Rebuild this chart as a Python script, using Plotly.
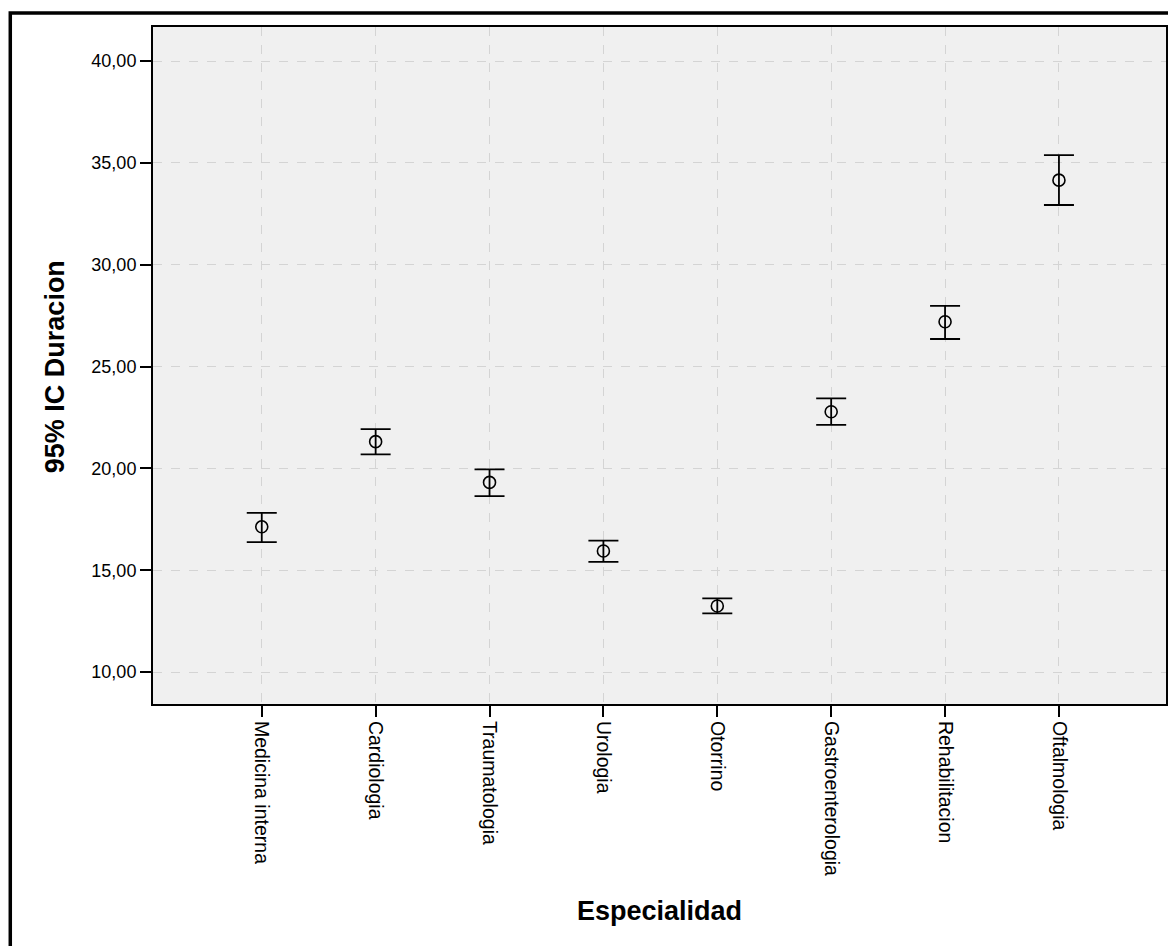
import plotly.graph_objects as go

categories = ["Medicina interna", "Cardiologia", "Traumatologia", "Urologia",
              "Otorrino", "Gastroenterologia", "Rehabilitacion", "Oftalmologia"]
means = [17.13, 21.31, 19.31, 15.94, 13.24, 22.78, 27.20, 34.15]
ci_upper = [17.81, 21.93, 19.95, 16.45, 13.62, 23.44, 27.98, 35.38]
ci_lower = [16.38, 20.69, 18.64, 15.41, 12.88, 22.13, 26.35, 32.93]
y_ticks = [10, 15, 20, 25, 30, 35, 40]
y_ticklabels = ["10,00", "15,00", "20,00", "25,00", "30,00", "35,00", "40,00"]

FONT = "Arial, 'Liberation Sans', sans-serif"

# page body has an 8px margin; work in page coords minus 8
OFF = 8
W, H = 1176 - OFF, 946 - OFF
L, R, T, B = 153 - OFF, 1168 - OFF, 27 - OFF, 704 - OFF

err_plus = [u - m for u, m in zip(ci_upper, means)]
err_minus = [m - l for m, l in zip(means, ci_lower)]

fig = go.Figure()
fig.add_trace(go.Scatter(
    x=list(range(len(categories))), y=means, mode="markers",
    marker=dict(symbol="circle-open", size=12, color="black", line=dict(width=1.6, color="black")),
    error_y=dict(type="data", symmetric=False, array=err_plus, arrayminus=err_minus,
                 color="black", thickness=1.8, width=15),
    showlegend=False, hoverinfo="skip",
))

def px_x(p):
    return (p - OFF - L) / (R - L)

def px_y(p):
    return (B - (p - OFF)) / (B - T)

fig.update_layout(
    width=W, height=H,
    margin=dict(l=L, r=W - R, t=T, b=H - B, pad=0),
    paper_bgcolor="white", plot_bgcolor="#f0f0f0",
    font=dict(family=FONT, color="black", size=18),
    xaxis=dict(
        range=[-0.955, 7.94], tickmode="array",
        tickvals=list(range(len(categories))), ticktext=categories,
        tickangle=90, ticks="outside", ticklen=11, tickwidth=1.5, tickcolor="black",
        showgrid=True, gridcolor="#d4d4d4", griddash="dash", gridwidth=1,
        showline=True, linecolor="black", linewidth=2, mirror=True,
        zeroline=False, tickfont=dict(size=19.5, family=FONT),
    ),
    yaxis=dict(
        range=[8.43, 41.67], tickmode="array", tickvals=y_ticks, ticktext=y_ticklabels,
        ticks="outside", ticklen=11, tickwidth=1.5, tickcolor="black",
        showgrid=True, gridcolor="#d4d4d4", griddash="dash", gridwidth=1,
        showline=True, linecolor="black", linewidth=2, mirror=True,
        zeroline=False, tickfont=dict(size=18, family=FONT),
    ),
    annotations=[
        dict(text="<b>95% IC Duracion</b>", xref="paper", yref="paper",
             x=px_x(55), y=px_y(367), textangle=-90, showarrow=False,
             xanchor="center", yanchor="middle", font=dict(size=27, family=FONT)),
        dict(text="<b>Especialidad</b>", xref="paper", yref="paper",
             x=px_x(661), y=px_y(911), showarrow=False,
             xanchor="center", yanchor="middle", font=dict(size=27, family=FONT)),
    ],
    shapes=[
        dict(type="path", xref="paper", yref="paper",
             path=f"M {px_x(10)} {px_y(960)} L {px_x(10)} {px_y(13)} L {px_x(1190)} {px_y(13)}",
             line=dict(color="black", width=3.5)),
    ],
)

fig.write_html("out.html")
